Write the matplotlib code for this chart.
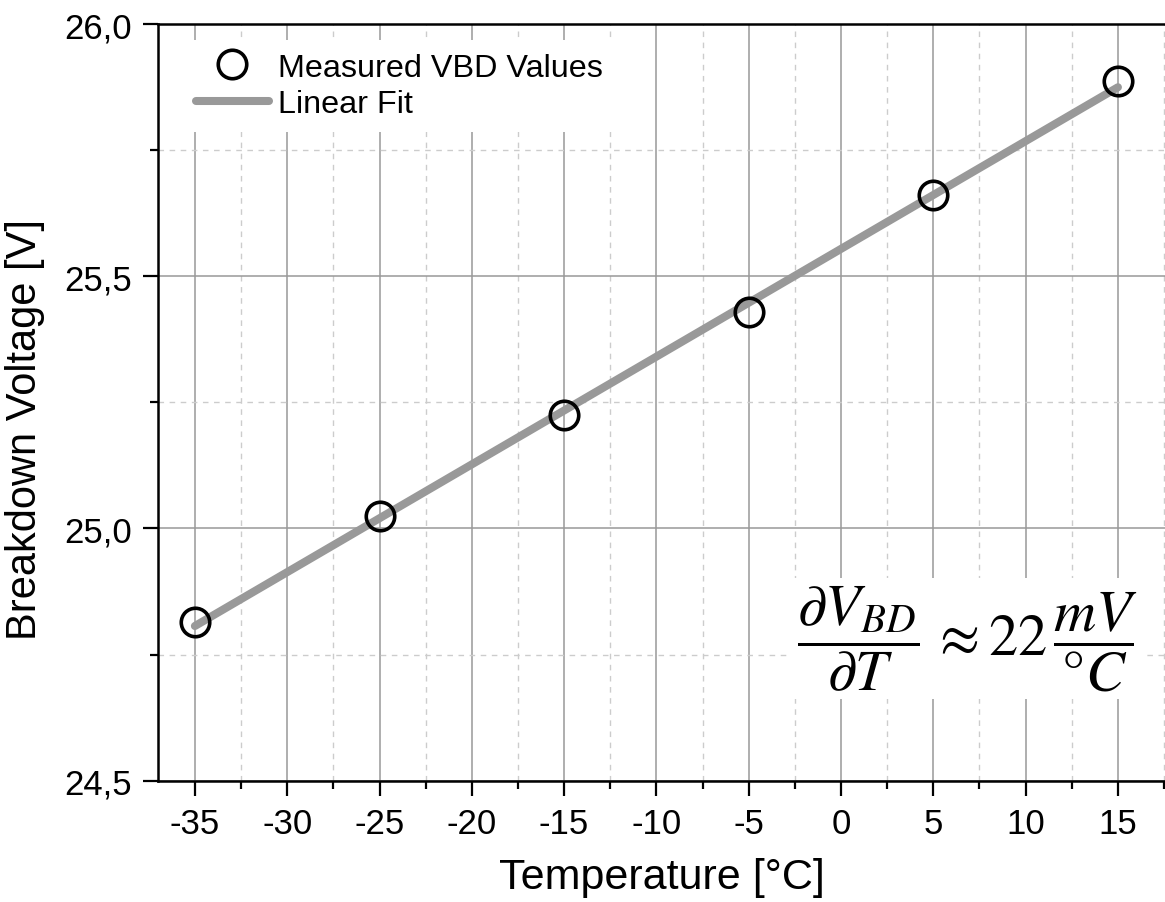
import numpy as np
import matplotlib
matplotlib.use("Agg")
import matplotlib.pyplot as plt
from matplotlib.ticker import MultipleLocator, FuncFormatter

plt.rcParams["font.family"] = ["Liberation Sans", "DejaVu Sans"]
plt.rcParams["mathtext.fontset"] = "stix"
plt.rcParams["axes.unicode_minus"] = False

# measured breakdown voltage vs temperature
temperature = [-35, -25, -15, -5, 5, 15]
vbd = [24.815, 25.025, 25.225, 25.430, 25.662, 25.887]

fit = np.polyfit(temperature, vbd, 1)
fit_x = [temperature[0], temperature[-1]]
fit_y = np.polyval(fit, fit_x)

fig = plt.figure(figsize=(11.65, 9.03), dpi=100)
ax = fig.add_axes([0.1356, 0.1343, 0.8644, 0.838])

ax.plot(fit_x, fit_y, color="#999999", lw=5.8, solid_capstyle="round",
        label="Linear Fit", zorder=3)
ax.plot(temperature, vbd, "o", ms=20.5, mfc="none", mec="black", mew=2.6,
        label="Measured VBD Values", zorder=4)

ax.set_xlim(-37.0, 17.55)
ax.set_ylim(24.5, 26.0)
ax.xaxis.set_major_locator(MultipleLocator(5))
ax.xaxis.set_minor_locator(MultipleLocator(2.5))
ax.yaxis.set_major_locator(MultipleLocator(0.5))
ax.yaxis.set_minor_locator(MultipleLocator(0.25))
ax.yaxis.set_major_formatter(FuncFormatter(lambda v, p: f"{v:.1f}".replace(".", ",")))

ax.grid(True, which="major", color="#999999", lw=1.1)
ax.grid(True, which="minor", color="#cccccc", lw=1.0, ls=(0, (4, 4)))
ax.set_axisbelow(True)

ax.tick_params(which="major", direction="out", length=11, width=1.6, labelsize=25, pad=8)
ax.tick_params(which="minor", direction="out", length=5.5, width=1.6)
for s in ["left", "bottom", "top"]:
    ax.spines[s].set_linewidth(1.8)
ax.spines["right"].set_visible(False)

ax.set_xlabel("Temperature [°C]", fontsize=31, labelpad=12)
ax.set_ylabel("Breakdown Voltage [V]", fontsize=30)
ax.yaxis.set_label_coords(-0.112, 0.465)

handles, labels = ax.get_legend_handles_labels()
leg = ax.legend(handles[::-1], labels[::-1], loc="upper left", fontsize=23.3,
                frameon=True, fancybox=False, framealpha=1, edgecolor="none",
                handlelength=2.25, handletextpad=0.28, borderaxespad=0.3,
                labelspacing=0.2, bbox_to_anchor=(0.015, 0.992))

ax.text(0.804, 0.188,
        r"$\dfrac{\partial V_{BD}}{\partial T}\,\approx 22\,\dfrac{mV}{°C}$",
        transform=ax.transAxes, fontsize=42, ha="center", va="center",
        bbox=dict(facecolor="white", edgecolor="none", pad=4), zorder=5)

fig.savefig("out.png", dpi=100)
